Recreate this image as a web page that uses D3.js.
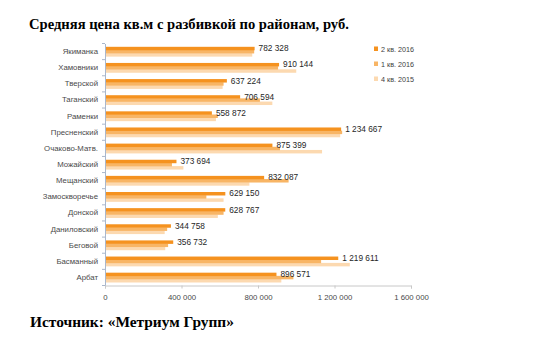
<!DOCTYPE html>
<html><head><meta charset="utf-8">
<script src="https://cdn.jsdelivr.net/npm/d3@7"></script>
<style>body{margin:0;background:#fff}svg{display:block}</style>
</head><body>
<script>
const categories = ["Якиманка","Хамовники","Тверской","Таганский","Раменки","Пресненский","Очаково-Матв.","Можайский","Мещанский","Замоскворечье","Донской","Даниловский","Беговой","Басманный","Арбат"];
const seriesNames = ["2 кв. 2016","1 кв. 2016","4 кв. 2015"];
const q2_2016 = [782328,910144,637224,706594,558872,1234667,875399,373694,832087,629150,628767,344758,356732,1219611,896571];
const q1_2016 = [780000,905000,620000,810000,590000,1240000,915000,350000,960000,530000,620000,325000,330000,1130000,985000];
const q4_2015 = [770000,1000000,615000,875000,580000,1230000,1135000,410000,755000,620000,590000,312000,315000,1280000,922000];
const xTicks = [0,400000,800000,1200000,1600000];
const colors = ["#F5921F","#F8B565","#FCD9B0"];

const W=544,H=337;
const svg=d3.select("body").append("svg").attr("width",W).attr("height",H);
const fmt = v => d3.format(",")(v).replace(/,/g," ");

svg.append("text").attr("x",29).attr("y",28.5)
  .attr("font-family","Liberation Serif, Times New Roman, serif").attr("font-weight","bold")
  .attr("font-size",14.6).attr("fill","#000").text("Средняя цена кв.м с разбивкой по районам, руб.");
svg.append("text").attr("x",30).attr("y",327)
  .attr("font-family","Liberation Serif, Times New Roman, serif").attr("font-weight","bold")
  .attr("font-size",15.4).attr("fill","#000").text("Источник: «Метриум Групп»");

const x=d3.scaleLinear().domain([0,1600000]).range([105,411]);
const y=d3.scaleBand().domain(categories).range([43.5,285.5]).paddingInner(0.41).paddingOuter(0.205);
const ys=d3.scaleBand().domain(seriesNames).range([0,y.bandwidth()]);
const series=[q2_2016,q1_2016,q4_2015];

const g=svg.append("g");
[2,1,0].forEach(si=>{
  g.selectAll(null).data(categories).enter().append("rect")
    .attr("x",x(0)).attr("y",(c)=>y(c)+ys(seriesNames[si]))
    .attr("width",(c,i)=>x(series[si][i])-x(0)).attr("height",ys.bandwidth()+0.3)
    .attr("fill",colors[si]);
});

const yAx=d3.axisLeft(y).tickSize(0).tickPadding(7);
const ya=svg.append("g").attr("transform",`translate(${x(0)},0)`).call(yAx);
ya.select(".domain").attr("stroke","#a9b7cc");
ya.selectAll("text").attr("font-family","Liberation Sans, Arial, sans-serif").attr("font-size",7.8).attr("fill","#4a4a4a");
const bounds=categories.map(c=>y(c)-y.step()*y.paddingInner()/2).concat([y.range()[1]]);
svg.append("g").selectAll("line").data(bounds).enter().append("line")
  .attr("x1",x(0)-3).attr("x2",x(0)).attr("y1",d=>d).attr("y2",d=>d).attr("stroke","#a9b7cc");

const xAx=d3.axisBottom(x).tickValues(xTicks).tickSize(3).tickPadding(6).tickFormat(fmt);
const xa=svg.append("g").attr("transform",`translate(0,285.5)`).call(xAx);
xa.select(".domain").attr("stroke","#c8c8c8");
xa.selectAll("line").attr("stroke","#c8c8c8");
xa.selectAll("text").attr("font-family","Liberation Sans, Arial, sans-serif").attr("font-size",7.8).attr("fill","#4a4a4a");

g.selectAll(null).data(categories).enter().append("text")
  .attr("x",(c,i)=>x(q2_2016[i])+4).attr("y",c=>y(c)+ys(seriesNames[0])+ys.bandwidth()/2)
  .attr("dy","0.35em").attr("font-family","Liberation Sans, Arial, sans-serif").attr("font-size",8.3)
  .attr("fill","#262626").text((c,i)=>fmt(q2_2016[i]));

const lg=svg.append("g");
seriesNames.forEach((s,i)=>{
  const yy=49+i*15;
  lg.append("rect").attr("x",374).attr("y",yy-2.5).attr("width",4).attr("height",4.5).attr("fill",colors[i]);
  lg.append("text").attr("x",381).attr("y",yy).attr("dy","0.35em")
    .attr("font-family","Liberation Sans, Arial, sans-serif").attr("font-size",7.2).attr("fill","#404040").text(s);
});
</script>
</body></html>
